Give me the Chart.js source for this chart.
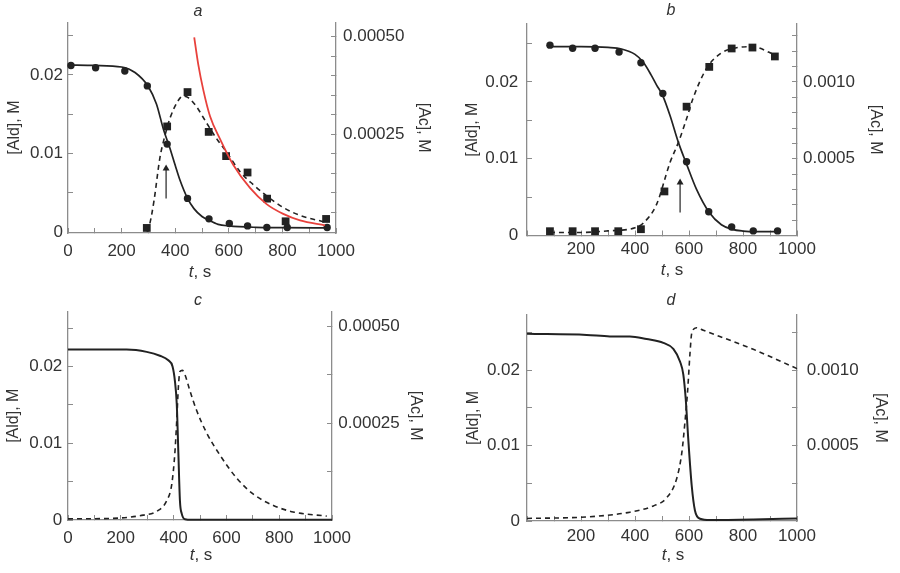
<!DOCTYPE html>
<html>
<head>
<meta charset="utf-8">
<script src="https://cdn.jsdelivr.net/npm/chart.js@4.4.1/dist/chart.umd.min.js"></script>
<style>
  body { margin: 0; background: #fff; }
  #wrap { position: relative; width: 900px; height: 573px; }
  #wrap canvas { position: absolute; }
</style>
</head>
<body>
<div id="wrap">
  <canvas id="chartA" width="450" height="290" style="left:0;top:0"></canvas>
  <canvas id="chartB" width="450" height="290" style="left:450px;top:0"></canvas>
  <canvas id="chartC" width="450" height="283" style="left:0;top:290px"></canvas>
  <canvas id="chartD" width="450" height="283" style="left:450px;top:290px"></canvas>
</div>
<script>
// ---------- tick values / labels ----------
const xTicks = [0, 100, 200, 300, 400, 500, 600, 700, 800, 900, 1000];
const xLabelsWithZero = [0, 200, 400, 600, 800, 1000];
const xLabelsNoZero = [200, 400, 600, 800, 1000];
const leftTicks = [0, 0.005, 0.01, 0.015, 0.02, 0.025];
const leftLabels = [0, 0.01, 0.02];
const aRightTicks = [0.00005, 0.0001, 0.00015, 0.0002, 0.00025, 0.0003, 0.00035, 0.0004, 0.00045, 0.0005];
const aRightLabels = [0.00025, 0.0005];
const bRightTicks = [0.0001, 0.0002, 0.0003, 0.0004, 0.0005, 0.0006, 0.0007, 0.0008, 0.0009, 0.001, 0.0011, 0.0012, 0.0013];
const bRightLabels = [0.0005, 0.001];
const cRightTicks = [0.000125, 0.00025, 0.000375, 0.0005];
const cRightLabels = [0.00025, 0.0005];
const dRightTicks = [0.00025, 0.0005, 0.00075, 0.001, 0.00125];
const dRightLabels = [0.0005, 0.001];

// ---------- panel a ----------
const aAldT = [11, 103, 212, 296, 370, 446, 526, 602, 670, 742, 818, 967];
const aAldV = [0.0212, 0.0209, 0.0205, 0.0186, 0.0112, 0.0043, 0.0017, 0.0011, 0.0008, 0.0006, 0.0006, 0.0006];
const aAcT = [294, 370, 446, 525, 590, 670, 743, 812, 963];
const aAcV = [0.00001, 0.00027, 0.000358, 0.000256, 0.000194, 0.000152, 0.000085, 0.000027, 0.000033];
const aAldFitT = [0, 100, 200, 250, 300, 330, 356, 380, 400, 418, 446, 470, 500, 526, 560, 600, 700, 800, 970];
const aAldFitV = [0.02125, 0.0212, 0.021, 0.0203, 0.0185, 0.0163, 0.0131, 0.0107, 0.0085, 0.0066, 0.0043, 0.003, 0.002, 0.0015, 0.001, 0.0008, 0.00062, 0.00058, 0.00056];
const aAcFitT = [295, 305, 321, 343, 362, 381, 412, 430, 450, 480, 517, 555, 592, 642, 691, 741, 803, 866, 959];
const aAcFitV = [0, 0.00002, 0.00008, 0.00019, 0.000247, 0.000292, 0.000337, 0.000348, 0.000343, 0.00032, 0.000279, 0.000238, 0.000204, 0.000154, 0.000121, 0.000092, 0.0000625, 0.000042, 0.000025];
const aRedT = [471, 486, 505, 530, 567, 617, 679, 741, 803, 866, 959];
const aRedV = [0.000498, 0.000429, 0.000363, 0.000296, 0.000238, 0.000171, 0.0001125, 0.000071, 0.000046, 0.0000293, 0.0000168];
const aArrowT = [366, 366];
const aArrowV = [0.0043, 0.0081];

// ---------- panel b ----------
const bAldT = [85, 169, 252, 341, 422, 503, 591, 673, 758, 838, 928];
const bAldV = [0.0248, 0.0244, 0.0244, 0.0239, 0.0225, 0.0185, 0.0096, 0.0031, 0.0011, 0.0006, 0.0006];
const bAcT = [85, 169, 252, 338, 422, 509, 591, 675, 758, 835, 918];
const bAcV = [0.000028, 0.000028, 0.000028, 0.000028, 0.000041, 0.000287, 0.000839, 0.001098, 0.001218, 0.001224, 0.001166];
const bAldFitT = [85, 200, 300, 350, 400, 430, 460, 480, 503, 530, 560, 591, 628, 673, 720, 760, 800, 850, 928];
const bAldFitV = [0.0246, 0.0246, 0.0245, 0.0243, 0.0236, 0.0226, 0.0209, 0.0196, 0.0182, 0.0156, 0.0122, 0.0093, 0.006, 0.0031, 0.0014, 0.0008, 0.00058, 0.0005, 0.0005];
const bAcFitT = [85, 200, 300, 400, 430, 480, 530, 560, 591, 616, 665, 715, 763, 833, 925];
const bAcFitV = [0.00002, 0.00002, 0.00003, 0.00005, 0.00008, 0.000203, 0.000477, 0.000603, 0.00076, 0.000898, 0.001088, 0.001183, 0.001218, 0.00123, 0.00117];
const bArrowT = [567, 567];
const bArrowV = [0.003, 0.0069];

// ---------- panel c ----------
const cAldT = [0, 222, 298, 348, 380, 396, 405, 412, 418, 424, 431, 443, 468, 600, 800, 1000];
const cAldV = [0.0222, 0.0222, 0.0219, 0.0214, 0.0208, 0.02, 0.0181, 0.0151, 0.0088, 0.0025, 0.0008, 0.0001, 0.00002, 0.00002, 0.00002, 0.00002];
const cAcT = [0, 159, 285, 336, 374, 393, 405, 412, 418, 424, 433, 443, 462, 487, 525, 576, 639, 702, 778, 853, 980];
const cAcV = [0.000003, 0.000004, 0.0000125, 0.0000225, 0.00005, 0.000092, 0.000175, 0.000258, 0.000342, 0.000383, 0.000386, 0.000375, 0.000333, 0.000283, 0.000225, 0.000167, 0.000108, 0.0000667, 0.0000375, 0.0000208, 0.00001];

// ---------- panel d ----------
const dAldT = [0, 221, 307, 381, 443, 505, 542, 567, 579, 588, 597, 610, 622, 641, 678, 838, 1000];
const dAldV = [0.0248, 0.02465, 0.02445, 0.02445, 0.0241, 0.0236, 0.0228, 0.0211, 0.0194, 0.0161, 0.011, 0.0047, 0.0014, 0.0003, 0.00013, 0.0002, 0.00034];
const dAcT = [0, 221, 381, 468, 517, 554, 573, 585, 595, 604, 610, 628, 653, 838, 1000];
const dAcV = [0.000017, 0.000027, 0.0000585, 0.0001, 0.000153, 0.000279, 0.000447, 0.000656, 0.000866, 0.00112, 0.001243, 0.001281, 0.001264, 0.001138, 0.00101];

// ---------- styles ----------
const TEXT = '#333';
const AXIS = '#8c8c8c';
const INK = '#222';
const FONT = '"Liberation Sans", Arial, Helvetica, sans-serif';
const TICK_SIZE = 17;
Chart.defaults.font.family = FONT;
Chart.defaults.color = TEXT;

const pts = (t, v) => t.map((x, i) => ({ x, y: v[i] }));
const near = (list, v) => list.some(l => Math.abs(l - v) < 1e-9);

function curve(t, v, axis, opts = {}) {
  return Object.assign({
    data: pts(t, v), yAxisID: axis, showLine: true, pointRadius: 0,
    borderColor: INK, borderWidth: 1.7, tension: 0.4, cubicInterpolationMode: 'monotone', clip: false
  }, opts);
}
function markers(t, v, axis, style, r) {
  return {
    data: pts(t, v), yAxisID: axis, showLine: false, pointStyle: style, pointRadius: r,
    pointBackgroundColor: INK, pointBorderColor: INK, pointBorderWidth: 0, clip: false
  };
}
function arrow(t, v) {
  return {
    data: pts(t, v), yAxisID: 'yL', showLine: true, borderColor: INK, borderWidth: 1.2,
    pointStyle: 'triangle', pointRadius: [0, 4], pointBackgroundColor: INK, pointBorderWidth: 0, clip: false
  };
}

function axis(ticksArr, fmt, pad, size) {
  return {
    type: 'linear',
    afterBuildTicks: s => { s.ticks = ticksArr.map(v => ({ value: v })); },
    ticks: { autoSkip: false, maxRotation: 0, padding: pad, color: TEXT, font: { size: TICK_SIZE }, callback: fmt },
    grid: { drawOnChartArea: false, drawTicks: true, tickLength: -5, color: AXIS, lineWidth: 1 },
    border: { color: AXIS, width: 1.3 },
    afterFit: size
  };
}

// panel letters and the "t, s" titles (t in italic)
const panelText = {
  id: 'panelText',
  afterDraw(chart, args, o) {
    const ctx = chart.ctx;
    ctx.save();
    ctx.fillStyle = TEXT;
    ctx.textBaseline = 'middle';
    ctx.textAlign = 'center';
    ctx.font = 'italic 16px ' + FONT;
    ctx.fillText(o.letter, o.letterX, o.letterY);
    const it = 'italic 17px ' + FONT, nm = '17px ' + FONT;
    ctx.font = it; const w1 = ctx.measureText('t').width;
    ctx.font = nm; const w2 = ctx.measureText(', s').width;
    const x0 = o.titleX - (w1 + w2) / 2;
    ctx.textAlign = 'left';
    ctx.font = it; ctx.fillText('t', x0, o.titleY);
    ctx.font = nm; ctx.fillText(', s', x0 + w1, o.titleY);
    ctx.restore();
  }
};

function makePanel(p) {
  const xFmt = v => near(p.xLabels, v) ? String(v) : '';
  const leftFmt = v => v === 0 ? '0' : (near(leftLabels, v) ? v.toFixed(2) : '');
  const rightFmt = v => near(p.rightLabels, v) ? v.toFixed(p.digits) : '';

  const x = axis(xTicks, xFmt, p.xPad, s => { s.height = p.xH; });
  x.min = 0; x.max = 1000; x.position = 'bottom';

  const yL = axis(leftTicks, leftFmt, p.leftPad, s => { s.width = p.leftW; });
  yL.position = 'left'; yL.min = p.leftRange[0]; yL.max = p.leftRange[1];
  yL.title = { display: true, text: '[Ald], M', font: { size: 16 }, color: TEXT, padding: { top: p.leftTitlePad, bottom: 0 } };

  const yR = axis(p.rightTicks, rightFmt, p.rightPad, s => { s.width = p.rightW; });
  yR.position = 'right'; yR.min = p.rightRange[0]; yR.max = p.rightRange[1];
  yR.title = { display: true, text: '[Ac], M', font: { size: 16 }, color: TEXT, padding: { top: p.rightTitlePad, bottom: 0 } };

  new Chart(document.getElementById(p.el), {
    type: 'scatter',
    data: { datasets: p.datasets },
    options: {
      responsive: false,
      animation: false,
      devicePixelRatio: 1,
      layout: { padding: { top: p.top, left: 0, right: 0, bottom: 0 } },
      plugins: {
        legend: { display: false },
        tooltip: { enabled: false },
        panelText: { letter: p.letter, letterX: p.letterX, letterY: p.letterY, titleX: p.titleX, titleY: p.titleY }
      },
      scales: { x, yL, yR }
    },
    plugins: [panelText]
  });
}

makePanel({
  el: 'chartA', letter: 'a', letterX: 198, letterY: 12, titleX: 200, titleY: 272,
  top: 17, xH: 57, leftW: 68, rightW: 114,
  leftRange: [-0.0001, 0.0267], rightRange: [-0.000003, 0.000537],
  rightTicks: aRightTicks, rightLabels: aRightLabels, digits: 5, xLabels: xLabelsWithZero,
  xPad: 13.4, leftPad: 10, rightPad: 12, leftTitlePad: 5, rightTitlePad: 17,
  datasets: [
    curve(aRedT, aRedV, 'yR', { borderColor: '#e8413c', borderWidth: 1.8 }),
    curve(aAldFitT, aAldFitV, 'yL'),
    curve(aAcFitT, aAcFitV, 'yR', { borderDash: [5, 4], borderWidth: 1.6 }),
    markers(aAldT, aAldV, 'yL', 'circle', 3.7),
    markers(aAcT, aAcV, 'yR', 'rect', 5.5),
    arrow(aArrowT, aArrowV)
  ]
});

makePanel({
  el: 'chartB', letter: 'b', letterX: 221, letterY: 11, titleX: 222, titleY: 270,
  top: 17.3, xH: 54.5, leftW: 77, rightW: 103,
  leftRange: [0, 0.02757], rightRange: [0, 0.001378],
  rightTicks: bRightTicks, rightLabels: bRightLabels, digits: 4, xLabels: xLabelsNoZero,
  xPad: 8.8, leftPad: 13.7, rightPad: 11, leftTitlePad: 13, rightTitlePad: 15.4,
  datasets: [
    curve(bAldFitT, bAldFitV, 'yL'),
    curve(bAcFitT, bAcFitV, 'yR', { borderDash: [5, 4], borderWidth: 1.6 }),
    markers(bAldT, bAldV, 'yL', 'circle', 3.7),
    markers(bAcT, bAcV, 'yR', 'rect', 5.5),
    arrow(bArrowT, bArrowV)
  ]
});

makePanel({
  el: 'chartC', letter: 'c', letterX: 198, letterY: 11, titleX: 201, titleY: 265,
  top: 15.7, xH: 53, leftW: 68, rightW: 118,
  leftRange: [0, 0.02716], rightRange: [0, 0.000538],
  rightTicks: cRightTicks, rightLabels: cRightLabels, digits: 5, xLabels: xLabelsWithZero,
  xPad: 13.1, leftPad: 10.7, rightPad: 11.3, leftTitlePad: 3.5, rightTitlePad: 25.4,
  datasets: [
    curve(cAldT, cAldV, 'yL', { borderWidth: 2 }),
    curve(cAcT, cAcV, 'yR', { borderDash: [5, 4], borderWidth: 1.6 })
  ]
});

makePanel({
  el: 'chartD', letter: 'd', letterX: 221, letterY: 11, titleX: 223, titleY: 265,
  top: 15.7, xH: 52, leftW: 77, rightW: 103,
  leftRange: [0, 0.0273], rightRange: [0, 0.001366],
  rightTicks: dRightTicks, rightLabels: dRightLabels, digits: 4, xLabels: xLabelsNoZero,
  xPad: 10.4, leftPad: 12, rightPad: 14.7, leftTitlePad: 14, rightTitlePad: 10.4,
  datasets: [
    curve(dAldT, dAldV, 'yL', { borderWidth: 2 }),
    curve(dAcT, dAcV, 'yR', { borderDash: [5, 4], borderWidth: 1.6 })
  ]
});
</script>
</body>
</html>
